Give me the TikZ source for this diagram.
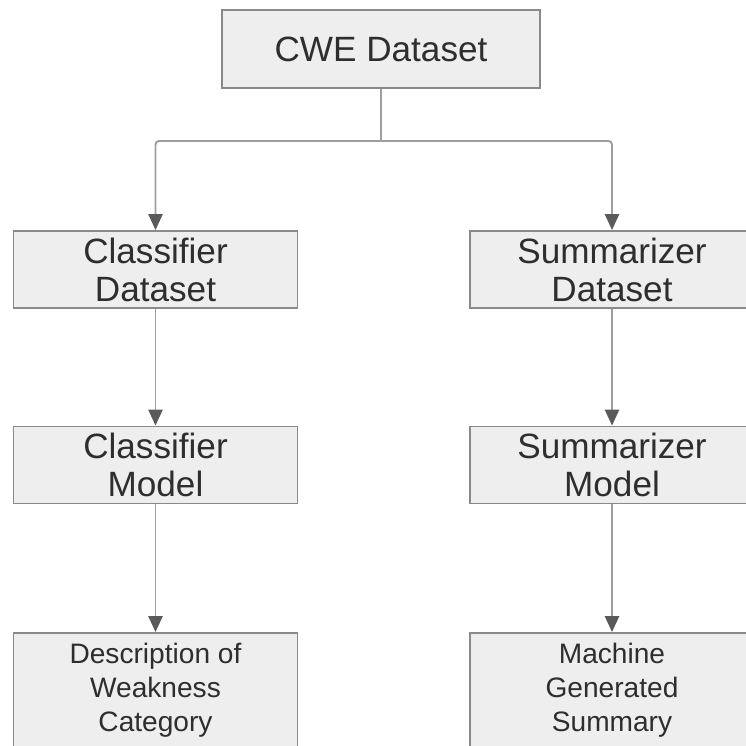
\documentclass[tikz,border=0pt]{standalone}
\usepackage{fontspec}
\setmainfont{Liberation Sans}
\usetikzlibrary{arrows.meta}
\definecolor{boxfill}{HTML}{EEEEEE}
\definecolor{boxline}{HTML}{8A8A8A}
\definecolor{wire}{HTML}{9E9E9E}
\definecolor{tip}{HTML}{5A5A5A}
\definecolor{ink}{HTML}{2E2E2E}

\begin{document}
\begin{tikzpicture}[
  x=0.02cm, y=-0.02cm,
  box/.style={rectangle,draw=boxline,fill=boxfill,line width=1.1pt,text=ink,
    align=center,inner sep=0pt,minimum width=5.68cm},
  big/.style={box,font=\fontsize{20}{21.6}\selectfont,minimum height=1.54cm},
  small/.style={box,font=\fontsize{16}{19.4}\selectfont,minimum height=2.3cm},
  line/.style={wire,line width=1.1pt},
  arc/.style={line,-{Triangle[length=9pt,width=8pt,color=tip,fill=tip]}},
]
\useasboundingbox (0,0) rectangle (746,746);
\node[big,minimum width=6.36cm,minimum height=1.56cm] (cwe) at (381,49) {CWE Dataset};
\node[big] (cds) at (155.5,269.5) {Classifier\\Dataset};
\node[big] (sds) at (612,269.5) {Summarizer\\Dataset};
\node[big] (cmod) at (155.5,465) {Classifier\\Model};
\node[big] (smod) at (612,465) {Summarizer\\Model};
\node[small] (cdesc) at (155.5,690.5) {Description of\\Weakness\\Category};
\node[small] (ssum) at (612,690.5) {Machine\\Generated\\Summary};
\coordinate (split) at (381,141);
\draw[line] (cwe) -- (split);
\draw[arc,rounded corners=2pt] (split) -| (cds);
\draw[arc,rounded corners=2pt] (split) -| (sds);
\draw[arc] (cds) -- (cmod);
\draw[arc] (sds) -- (smod);
\draw[arc] (cmod) -- (cdesc);
\draw[arc] (smod) -- (ssum);
\end{tikzpicture}
\end{document}
